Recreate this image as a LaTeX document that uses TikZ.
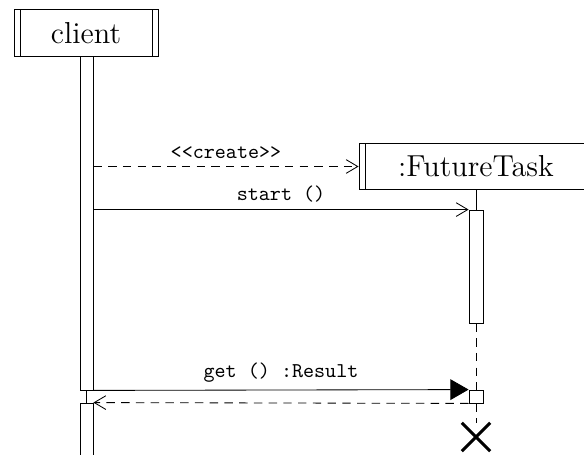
\documentclass[tikz,border=0pt]{standalone}
\usepackage{tikz}
\usetikzlibrary{arrows.meta, positioning, fit, shapes.misc}

\begin{document}
\begin{tikzpicture}[
			x=0.475pt, y=-0.475pt,
			instbox/.style={draw, minimum height=22.1pt, inner sep=0pt, font=\Large,
				path picture={
					\draw ([xshift=2.85pt]path picture bounding box.north west) -- ([xshift=2.85pt]path picture bounding box.south west);
					\draw ([xshift=-2.85pt]path picture bounding box.north east) -- ([xshift=-2.85pt]path picture bounding box.south east);
				}},
			actbox/.style={draw, fill=white, inner sep=0pt},
			msgarrow/.style={-{Straight Barb[length=5.5pt, width=6.5pt]}},
			callarrow/.style={-{Triangle[length=8.6pt, width=9.8pt]}},
			dashline/.style={dash pattern=on 4pt off 3pt},
			msglabel/.style={font=\ttfamily, above, midway}
		]
		\useasboundingbox (0,0) rectangle (584,455);
		\clip (0,0) rectangle (584,455);
		% instances
		\node[instbox, minimum width=68.4pt] (client) at (86,33) {client};
		\node[instbox, minimum width=111.2pt] (task) at (476,166.5) {:FutureTask};
		% activations
		\node[actbox, fit={(80,56) (93,390)}] (clientact) {};
		\node[actbox, fit={(80,403) (93,470)}] (clientact2) {};
		\node[actbox, fit={(469,210) (483,323)}] (taskact) {};
		\node[actbox, fit={(469,390) (483,403)}] (taskact2) {};
		\node[draw, cross out, line width=1.5pt, minimum size=12pt, inner sep=0pt] (kill) at (476,437) {};
		% lifelines
		\draw (clientact) -- (clientact2);
		\draw (task) -- (taskact);
		\draw[dashline] (taskact) -- (taskact2);
		\draw[dashline] (taskact2) -- (kill.north);
		% messages
		\draw[msgarrow, dashline] (clientact.east |- task.west) -- node[msglabel] {<<create>>} (task.west);
		\draw[msgarrow] (clientact.east |- taskact.north west) -- node[msglabel] {start ()} (taskact.north west);
		\draw[callarrow] (clientact.south east) -- node[msglabel] {get () :Result} (taskact2.north west);
		\draw[msgarrow, dashline] (taskact2.south west) -- (clientact2.north east);
	\end{tikzpicture}
\end{document}
